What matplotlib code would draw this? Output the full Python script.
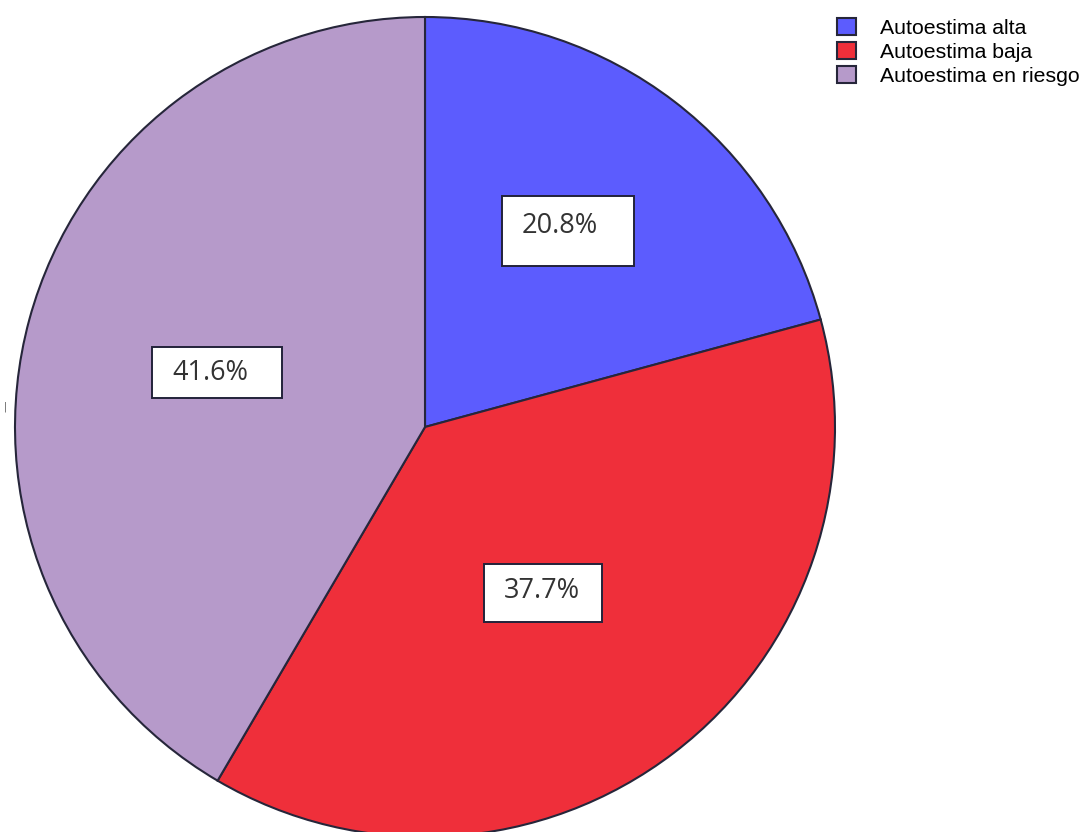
import numpy as np
import matplotlib.pyplot as plt
from matplotlib.patches import Rectangle

labels = ['Autoestima alta', 'Autoestima baja', 'Autoestima en riesgo']
values = [20.8, 37.7, 41.6]
colors = ['#5c5cfe', '#ef2f3a', '#b69aca']

# where each percentage sits: fraction of radius, angle nudge (deg)
label_dist = [0.59, 0.49, 0.54]
label_turn = [3.5, -2.0, 1.0]
# white boxes behind the percentages, in pixels
box_w = [132, 118, 130]
box_h = [70, 58, 51]
box_dx = [8, 2, 7]
box_dy = [-5, -2, 0]

r = 410.0  # pie radius in pixels
fig = plt.figure(figsize=(10.9, 8.32), dpi=100)
ax = fig.add_axes([0, 0, 1, 1])

wedges, texts, autotexts = ax.pie(
    values, colors=colors, startangle=90, counterclock=False,
    radius=1.0, center=(0, 0), autopct='%1.1f%%', pctdistance=0.55,
    wedgeprops=dict(edgecolor='#26263a', linewidth=1.5),
    textprops=dict(fontsize=19.5, family='Open Sans', color='#333333'))

for i, (w, t) in enumerate(zip(wedges, autotexts)):
    mid = np.deg2rad((w.theta1 + w.theta2) / 2 + label_turn[i])
    x, y = label_dist[i] * np.cos(mid), label_dist[i] * np.sin(mid)
    t.set_position((x, y))
    t.set_zorder(5)
    bw, bh = box_w[i] / r, box_h[i] / r
    cx, cy = x + box_dx[i] / r, y + box_dy[i] / r
    ax.add_patch(Rectangle((cx - bw / 2, cy - bh / 2), bw, bh, facecolor='white',
                           edgecolor='#22223a', linewidth=1.4, zorder=4))

# pie centred at pixel (425, 427)
ax.set_xlim(-425 / r, (1090 - 425) / r)
ax.set_ylim(-(832 - 427) / r, 427 / r)
ax.set_aspect('auto')
ax.axis('off')

fig.legend(wedges, labels, loc='upper left', bbox_to_anchor=(837 / 1090, 1 - 18 / 832),
           frameon=False, borderpad=0, borderaxespad=0, handlelength=0.88, handleheight=0.88,
           handletextpad=1.12, labelspacing=0.18,
           prop=dict(family='Liberation Sans', size=15.3))

# stray tick on the left edge
fig.text(5 / 1090, 1 - 407 / 832, '|', fontsize=7, color='#555555', ha='center', va='center')

fig.savefig('out.png', dpi=100)
